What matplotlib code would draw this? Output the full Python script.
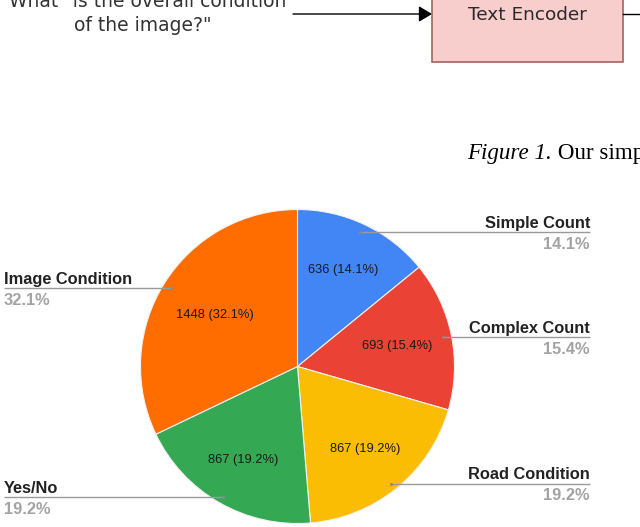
import matplotlib
matplotlib.use("Agg")
import matplotlib.pyplot as plt
from matplotlib.patches import Rectangle, FancyArrowPatch
import math

# ---- data ----
categories = ["Simple Count", "Complex Count", "Road Condition", "Yes/No", "Image Condition"]
counts = [636, 693, 867, 867, 1448]
colors = ["#4285F4", "#EA4335", "#FBBC04", "#34A853", "#FF6D01"]
question_lines = ["What \"is the overall condition", "of the image?\""]
encoder_label = "Text Encoder"
caption_italic = "Figure 1."
caption_rest = " Our simple"

W, H = 640, 527
fig = plt.figure(figsize=(W / 100, H / 100), dpi=100)
ax = fig.add_axes([0, 0, 1, 1])

total = sum(counts)
pcts = [c / total * 100 for c in counts]

# ---- pie (pixel-like coordinates, y axis pointing down) ----
cx, cy, R = 297.5, 366.5, 157
wedges, _ = ax.pie(counts, colors=colors, startangle=-90, counterclock=True,
                   center=(cx, cy), radius=R,
                   wedgeprops=dict(edgecolor="#f2f2f2", linewidth=0.8))

ax.set_xlim(0, W)
ax.set_ylim(H, 0)
ax.set_aspect("auto")
ax.axis("off")

inner_dist = [0.68, 0.65, 0.68, 0.69, 0.62]
for w, c, p, d in zip(wedges, counts, pcts, inner_dist):
    mid = math.radians((w.theta1 + w.theta2) / 2)
    x = cx + R * d * math.cos(mid)
    y = cy + R * d * math.sin(mid)
    ax.text(x, y, f"{c} ({p:.1f}%)", ha="center", va="center",
            fontsize=9.3, family="Liberation Sans", color="#1a1a1a")

# ---- outer labels with leader lines ----
leader = [
    (360, 232.3, 590, "right"),
    (443, 337.3, 590, "right"),
    (391, 483.7, 590, "right"),
    (222.5, 497.3, 4, "left"),
    (171, 288.3, 4, "left"),
]
for (ax0, ly, tx, side), name, p in zip(leader, categories, pcts):
    ax.plot([ax0, tx], [ly, ly], color="#9a9a9a", lw=1.0, solid_capstyle="butt")
    ax.plot([ax0], [ly], marker="o", ms=2.2, color="#8a8a8a", mec="none")
    ha = "right" if side == "right" else "left"
    ax.text(tx, ly - 4.5, name, ha=ha, va="baseline", fontsize=11.8,
            fontweight="bold", family="Liberation Sans", color="#222222")
    ax.text(tx, ly + 16.5, f"{p:.1f}%", ha=ha, va="baseline", fontsize=11.8,
            fontweight="bold", family="Liberation Sans", color="#a3a3a3")

# ---- top diagram fragment ----
ax.text(147.5, 7, question_lines[0], ha="center", va="baseline", fontsize=13.5,
        family="DejaVu Sans", color="#333333")
ax.text(143, 31, question_lines[1], ha="center", va="baseline", fontsize=13.5,
        family="DejaVu Sans", color="#333333")
ax.add_patch(FancyArrowPatch((293, 14), (432, 14), arrowstyle="-|>,head_length=5,head_width=3",
                             color="black", lw=1.0, mutation_scale=1.6, shrinkA=0, shrinkB=0))
ax.add_patch(Rectangle((432, -20), 191, 82, facecolor="#f8cecc", edgecolor="#a3625c", lw=1.2))
ax.plot([623, 641], [14, 14], color="black", lw=1.0)
ax.text(527, 20, encoder_label, ha="center", va="baseline", fontsize=13.3,
        family="DejaVu Sans", color="#2a2a2a")

# caption
t1 = ax.text(467, 159, caption_italic, ha="left", va="baseline", fontsize=16.6,
             family="Liberation Serif", style="italic", color="black")
fig.canvas.draw()
bb = t1.get_window_extent()
x_end = ax.transData.inverted().transform((bb.x1, bb.y0))[0]
ax.text(x_end, 159, caption_rest, ha="left", va="baseline", fontsize=16.6,
        family="Liberation Serif", color="black")

fig.savefig("out.png", dpi=100)
